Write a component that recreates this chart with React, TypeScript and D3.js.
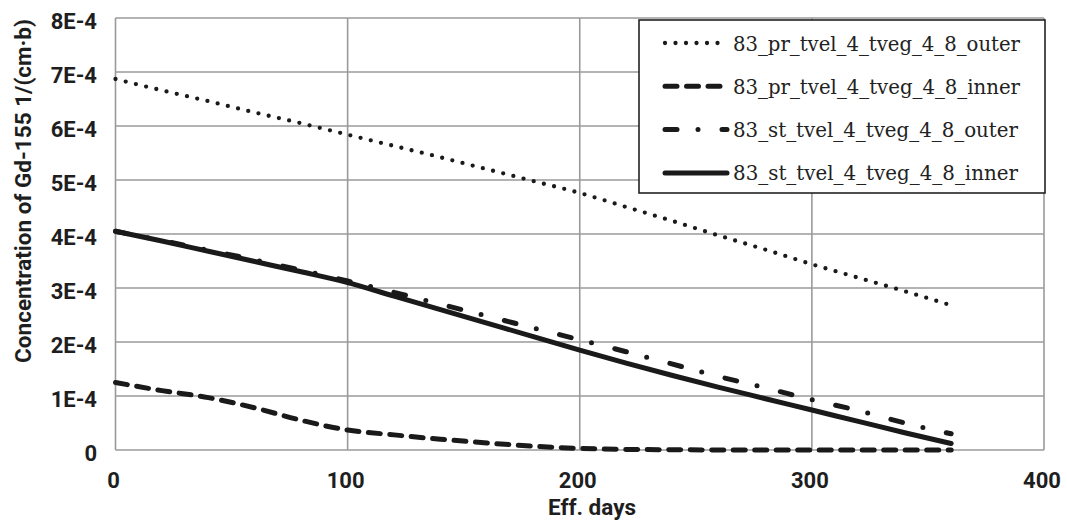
import React from 'react';
import * as d3 from 'd3';

// Eff. days at which the curves were read
const days = [0, 20, 40, 60, 80, 100, 120, 140, 160, 180, 200, 220, 240, 260, 280, 300, 320, 340, 360];

// Gd-155 concentration, in units of 1E-4 1/(cm·b)
const prOuter = [6.87, 6.66, 6.46, 6.25, 6.05, 5.84, 5.63, 5.42, 5.2, 4.98, 4.76, 4.5, 4.24, 3.97, 3.71, 3.44, 3.19, 2.94, 2.68];
const prInner = [1.25, 1.1, 0.97, 0.78, 0.55, 0.37, 0.28, 0.2, 0.13, 0.07, 0.03, 0.01, 0.005, 0, 0, 0, 0, 0, 0];
const stOuter = [4.05, 3.88, 3.7, 3.52, 3.33, 3.13, 2.92, 2.7, 2.48, 2.26, 2.04, 1.82, 1.59, 1.36, 1.15, 0.93, 0.73, 0.5, 0.3];
const stInner = [4.05, 3.87, 3.68, 3.49, 3.3, 3.1, 2.85, 2.6, 2.35, 2.1, 1.85, 1.61, 1.38, 1.16, 0.95, 0.74, 0.53, 0.32, 0.12];

const seriesNames = [
  '83_pr_tvel_4_tveg_4_8_outer',
  '83_pr_tvel_4_tveg_4_8_inner',
  '83_st_tvel_4_tveg_4_8_outer',
  '83_st_tvel_4_tveg_4_8_inner',
];

const xTicks = [0, 100, 200, 300, 400];
const yTicks = [0, 1, 2, 3, 4, 5, 6, 7, 8];
const yTickLabels = ['0', '1E-4', '2E-4', '3E-4', '4E-4', '5E-4', '6E-4', '7E-4', '8E-4'];

const W = 1067;
const H = 525;
const left = 115.5;
const right = 1044;
const top = 18;
const bottom = 450;

// line styles for each series
const styles = [
  { width: 4.3, dash: '0 10.5', cap: 'round' },
  { width: 5, dash: '12 9.5', cap: 'round' },
  { width: 5, dash: '12 21 0 24', cap: 'round' },
  { width: 5, dash: 'none', cap: 'round' },
];

// legend text widths as measured on the picture
const legendTextLen = [287, 287, 285, 285];

export default function App() {
  const x = d3.scaleLinear().domain([0, 400]).range([left, right]);
  const y = d3.scaleLinear().domain([0, 8]).range([bottom, top]);

  const line = d3
    .line<number>()
    .x((_, i) => x(days[i]))
    .y((d) => y(d))
    .curve(d3.curveMonotoneX);

  const allSeries = [prOuter, prInner, stOuter, stInner];
  const tickStyle = { fontFamily: 'Roboto, sans-serif', fontWeight: 700, fontSize: 22 };

  return (
    <svg width={W} height={H} style={{ position: 'absolute', left: 0, top: 0, background: '#fff' }}>
      {/* grid */}
      <g stroke="#9a9a9a" strokeWidth={1.6}>
        {xTicks.map((t) => (
          <line key={'gx' + t} x1={x(t)} x2={x(t)} y1={top} y2={bottom} />
        ))}
        {yTicks.map((t) => (
          <line key={'gy' + t} x1={left} x2={right} y1={y(t)} y2={y(t)} />
        ))}
      </g>

      {/* series */}
      {allSeries.map((s, i) => (
        <path
          key={seriesNames[i]}
          d={line(s) || ''}
          fill="none"
          stroke="#1a1a1a"
          strokeWidth={styles[i].width}
          strokeDasharray={styles[i].dash}
          strokeLinecap={styles[i].cap as any}
          strokeLinejoin="round"
        />
      ))}

      {/* y tick labels */}
      {yTicks.map((t, i) => (
        <text key={'yl' + t} x={97} y={y(t) + 11} textAnchor="end" fill="#1e1e1e" style={tickStyle}>
          {yTickLabels[i]}
        </text>
      ))}

      {/* x tick labels */}
      {xTicks.map((t) => (
        <text key={'xl' + t} x={x(t) - 2} y={488} textAnchor="middle" fill="#1e1e1e" style={tickStyle}>
          {t}
        </text>
      ))}

      <text x={592} y={515} textAnchor="middle" fill="#1e1e1e" style={{ ...tickStyle, fontSize: 22.5 }}>
        Eff. days
      </text>
      <text
        transform="translate(31, 191) rotate(-90)"
        textAnchor="middle"
        fill="#1e1e1e"
        style={{ ...tickStyle, fontSize: 22.5 }}
      >
        Concentration of Gd-155 1/(cm·b)
      </text>

      {/* legend */}
      <g>
        <rect x={639} y={20} width={406} height={173} fill="#fff" stroke="#222" strokeWidth={1.6} />
        {seriesNames.map((name, i) => {
          const cy = 43 + i * 43.3;
          return (
            <g key={'lg' + i}>
              <line
                x1={665}
                x2={727}
                y1={cy}
                y2={cy}
                stroke="#1a1a1a"
                strokeWidth={styles[i].width}
                strokeDasharray={styles[i].dash}
                strokeLinecap={styles[i].cap as any}
              />
              <text
                x={733}
                y={cy + 7.5}
                fill="#222"
                fontFamily="'DejaVu Serif', serif"
                fontSize={21}
                textLength={legendTextLen[i]}
                lengthAdjust="spacingAndGlyphs"
              >
                {name}
              </text>
            </g>
          );
        })}
      </g>
    </svg>
  );
}
